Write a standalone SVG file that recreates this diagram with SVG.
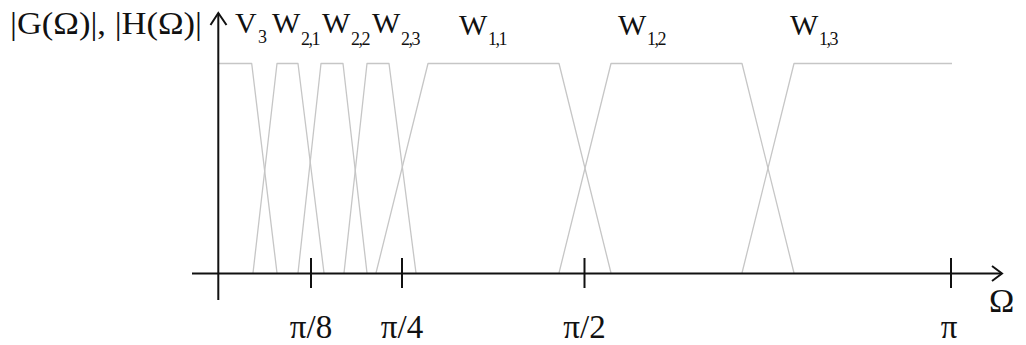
<svg xmlns="http://www.w3.org/2000/svg" width="1026" height="345" viewBox="0 0 1026 345">
<style>
.ax{stroke:#111;stroke-width:2;fill:none}
.tk{stroke:#111;stroke-width:2}
.band{stroke:#c6c6c6;stroke-width:1.3;fill:none;stroke-linejoin:round}
.t{font-family:"Liberation Serif","Times New Roman",serif;fill:#111}
.big{font-size:30px}
.sub{font-size:18px}
.tl{font-size:33px;text-anchor:middle}
</style>
<rect width="1026" height="345" fill="#fff"/>
<g id="bands">
<path id="V3" class="band" d="M218,63.5 H251.7 L277,273"/>
<path id="W21" class="band" d="M253,273 L277,63.5 H298 L324,273"/>
<path id="W22" class="band" d="M298,273 L321,63.5 H343 L367,273"/>
<path id="W23" class="band" d="M344,273 L367,63.5 H389 L416,273"/>
<path id="W11" class="band" d="M376,273 L428,63.5 H559 L611,273"/>
<path id="W12" class="band" d="M559,273 L611,63.5 H742 L794,273"/>
<path id="W13" class="band" d="M742,273 L794,63.5 H952"/>
</g>
<g id="axes">
<line class="ax" x1="192" y1="273.5" x2="1002" y2="273.5"/>
<polyline class="ax" points="992,266 1002,273.5 992,281"/>
<line class="ax" x1="218.3" y1="300" x2="218.3" y2="13"/>
<polyline class="ax" points="210.5,25 218.3,13 226.5,25"/>
<line class="tk" x1="311" y1="258" x2="311" y2="288"/>
<line class="tk" x1="402" y1="258" x2="402" y2="288"/>
<line class="tk" x1="584.5" y1="258" x2="584.5" y2="288"/>
<line class="tk" x1="951" y1="258" x2="951" y2="288"/>
</g>
<g id="labels">
<text class="t" x="10" y="34" font-size="32" textLength="192" lengthAdjust="spacingAndGlyphs">|G(Ω)|, |H(Ω)|</text>
<text class="t big" x="235" y="33">V</text><text class="t sub" x="258" y="43">3</text>
<text class="t big" x="272" y="33">W</text><text class="t sub" x="301" y="45" letter-spacing="-1.5">2,1</text>
<text class="t big" x="322" y="33">W</text><text class="t sub" x="351" y="45" letter-spacing="-1.5">2,2</text>
<text class="t big" x="372" y="33">W</text><text class="t sub" x="401" y="45" letter-spacing="-1.5">2,3</text>
<text class="t big" x="459" y="35">W</text><text class="t sub" x="488" y="45" letter-spacing="-1.5">1,1</text>
<text class="t big" x="618" y="35">W</text><text class="t sub" x="647" y="45" letter-spacing="-1.5">1,2</text>
<text class="t big" x="790" y="35">W</text><text class="t sub" x="819" y="45" letter-spacing="-1.5">1,3</text>
<text class="t tl" x="311" y="338">π/8</text>
<text class="t tl" x="402" y="338">π/4</text>
<text class="t tl" x="584.5" y="338">π/2</text>
<text class="t tl" x="949" y="338">π</text>
<text class="t" x="989" y="312" font-size="34">Ω</text>
</g>
</svg>
